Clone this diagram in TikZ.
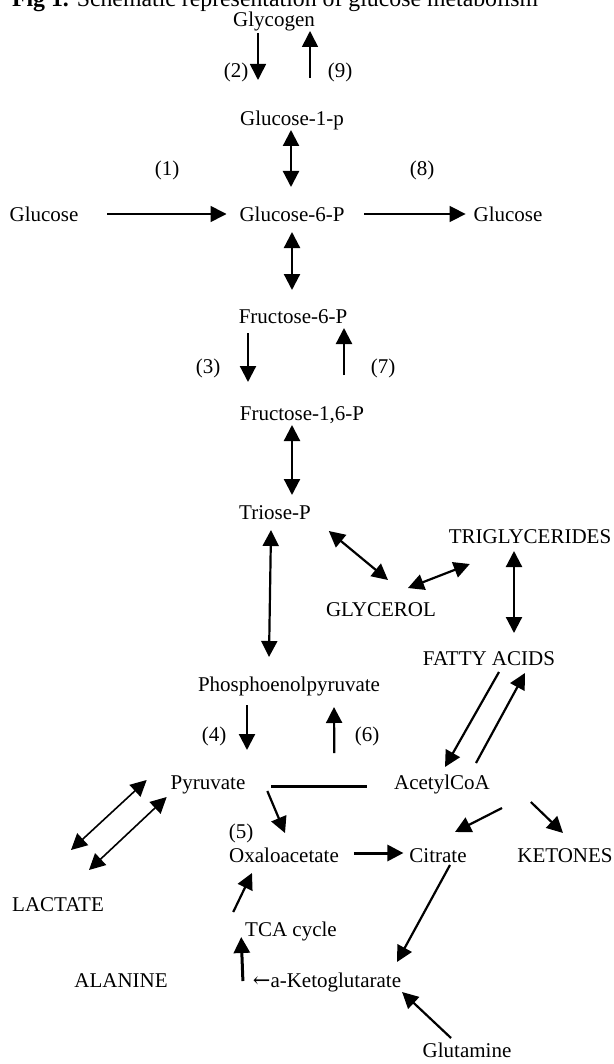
\documentclass[tikz,border=0pt]{standalone}
\usepackage{fontspec}
\setmainfont{Liberation Serif}
\newfontfamily\arrowfont{DejaVu Serif}
\usetikzlibrary{arrows.meta}

\begin{document}
\begin{tikzpicture}[x=0.5pt, y=-0.5pt,
    met/.style={font=\fontsize{10.5}{12}\selectfont, inner sep=0pt, outer sep=0pt,
        text height=7pt, text depth=2pt},
    arr/.style={-{Triangle[length=8pt, width=8pt]}, line width=1.1pt},
    darr/.style={{Triangle[length=8pt, width=8pt]}-{Triangle[length=8pt, width=8pt]}, line width=1.1pt},
    slim/.style={line width=0.8pt}]
    \useasboundingbox (0,0) rectangle (614,1064);

    \node [met, anchor=base west, font=\fontsize{11.9}{14}\selectfont] (title) at (12,7)
        {\textbf{Fig 1.} Schematic representation of glucose metabolism};

    % glycogen and glucose
    \node [met] (glycogen) at (274,22) {Glycogen};
    \node [met] (l2) at (236,73) {(2)};
    \node [met] (l9) at (340,73) {(9)};
    \node [met] (g1p) at (292,121) {Glucose-1-p};
    \node [met] (l1) at (167,171) {(1)};
    \node [met] (l8) at (422,171) {(8)};
    \node [met] (glcin) at (44,216) {Glucose};
    \node [met] (g6p) at (292,216) {Glucose-6-P};
    \node [met] (glcout) at (508,216) {Glucose};

    % fructose and triose
    \node [met] (f6p) at (293,318) {Fructose-6-P};
    \node [met] (l3) at (208,368) {(3)};
    \node [met] (l7) at (383,368) {(7)};
    \node [met] (f16p) at (302,415) {Fructose-1,6-P};
    \node [met] (triose) at (275,514) {Triose-P};
    \node [met] (trigly) at (530,538) {TRIGLYCERIDES};
    \node [met] (glycerol) at (381,611) {GLYCEROL};
    \node [met] (fatty) at (489,660) {FATTY ACIDS};

    % pyruvate and TCA
    \node [met] (pep) at (289,686) {Phosphoenolpyruvate};
    \node [met] (l4) at (214,736) {(4)};
    \node [met] (l6) at (367,736) {(6)};
    \node [met] (pyruvate) at (208,784) {Pyruvate};
    \node [met] (acetyl) at (442,784) {AcetylCoA};
    \node [met] (l5) at (241,833) {(5)};
    \node [met] (oxalo) at (284,857) {Oxaloacetate};
    \node [met] (citrate) at (438,857) {Citrate};
    \node [met] (ketones) at (565,857) {KETONES};
    \node [met] (lactate) at (58,906) {LACTATE};
    \node [met] (tca) at (291,931) {TCA cycle};
    \node [met] (alanine) at (121,982) {ALANINE};
    \node [met] (akg) at (327,982) {{\arrowfont ←}a-Ketoglutarate};
    \node [met] (glutamine) at (467,1052) {Glutamine};

    \draw [arr, slim] ([xshift=-8pt, yshift=-1pt]glycogen.south) -- ([xshift=-17pt, yshift=16pt]g1p.north);
    \draw [arr, slim] ([xshift=9pt, yshift=17pt]g1p.north) -- ([xshift=18pt]glycogen.south);
    \draw [darr] ([xshift=-0.5pt]g1p.south) -- ([xshift=-0.5pt, yshift=10pt]g6p.north);
    \draw [arr, slim] ([xshift=14.5pt, yshift=1pt]glcin.east) -- ([xshift=-6.5pt, yshift=1pt]g6p.west);
    \draw [arr, slim] ([xshift=10pt, yshift=1pt]g6p.east) -- ([xshift=-4pt, yshift=1pt]glcout.west);
    \draw [darr] ([yshift=-3.5pt]g6p.south) -- ([xshift=-0.5pt, yshift=9.5pt]f6p.north);

    \draw [arr] ([xshift=-22.5pt, yshift=-3pt]f6p.south) -- ([xshift=-27pt, yshift=12pt]f16p.north);
    \draw [arr] ([xshift=21pt, yshift=15.5pt]f16p.north) -- ([xshift=25.5pt, yshift=-0.5pt]f6p.south);
    \draw [darr] ([xshift=-5pt, yshift=-0.5pt]f16p.south) -- ([xshift=8.5pt, yshift=5pt]triose.north);
    \draw [darr] ([xshift=-2pt, yshift=-3.5pt]triose.south) -- ([xshift=-10pt, yshift=10pt]pep.north);
    \draw [darr] ([xshift=9pt, yshift=-4pt]triose.south east) -- ([xshift=3.5pt, yshift=11pt]glycerol.north);
    \draw [darr] ([xshift=-14pt, yshift=7pt]glycerol.north east) -- ([xshift=10.5pt, yshift=-8.5pt]trigly.south west);
    \draw [darr] ([xshift=-8pt, yshift=-2pt]trigly.south) -- ([xshift=12.5pt, yshift=9pt]fatty.north);

    \draw [arr] ([xshift=-21pt, yshift=-5pt]pep.south) -- ([xshift=19.5pt, yshift=12.5pt]pyruvate.north);
    \draw [arr] ([xshift=44.5pt, yshift=11pt]pyruvate.north east) -- ([xshift=22.5pt, yshift=-6pt]pep.south);
    \draw [line width=1.5pt] ([xshift=13pt, yshift=-1pt]pyruvate.east) -- ([xshift=-13.5pt, yshift=-1pt]acetyl.west);
    \draw [arr] ([xshift=5pt, yshift=-1.5pt]fatty.south) -- ([xshift=1.5pt, yshift=4pt]acetyl.north);
    \draw [arr] ([xshift=17pt, yshift=6pt]acetyl.north) -- ([xshift=18pt, yshift=-2pt]fatty.south);
    \draw [darr, slim] ([xshift=-12pt, yshift=2pt]pyruvate.west) -- ([xshift=6.5pt, yshift=23.5pt]lactate.north);
    \draw [darr, slim] ([xshift=-2pt, yshift=-2pt]pyruvate.south west) -- ([xshift=15.5pt, yshift=13.5pt]lactate.north);
    \draw [arr] ([xshift=11pt, yshift=-3.5pt]pyruvate.east) -- ([xshift=0.5pt, yshift=7.5pt]oxalo.north);
    \draw [arr, line width=1.5pt] ([xshift=7.5pt, yshift=2pt]oxalo.east) -- ([xshift=-3pt, yshift=2pt]citrate.west);
    \draw [arr] ([xshift=30pt, yshift=-7.5pt]acetyl.south) -- ([xshift=8.5pt, yshift=8pt]citrate.north);
    \draw [arr] ([xshift=20.5pt, yshift=-4.5pt]acetyl.south east) -- ([xshift=-1pt, yshift=7.5pt]ketones.north);
    \draw [arr] ([xshift=6pt, yshift=0.5pt]citrate.south) -- ([xshift=35pt, yshift=5.5pt]akg.north);
    \draw [arr] ([xshift=-6pt, yshift=5pt]tca.north west) -- ([xshift=-16pt, yshift=-3.5pt]oxalo.south);
    \draw [arr, line width=1.5pt] ([xshift=-5pt, yshift=0.5pt]akg.west) -- ([xshift=-2pt, yshift=1.5pt]tca.south west);
    \draw [arr] ([xshift=-8pt, yshift=2.5pt]glutamine.north) -- ([xshift=0.5pt, yshift=-0.5pt]akg.south east);
\end{tikzpicture}
\end{document}
